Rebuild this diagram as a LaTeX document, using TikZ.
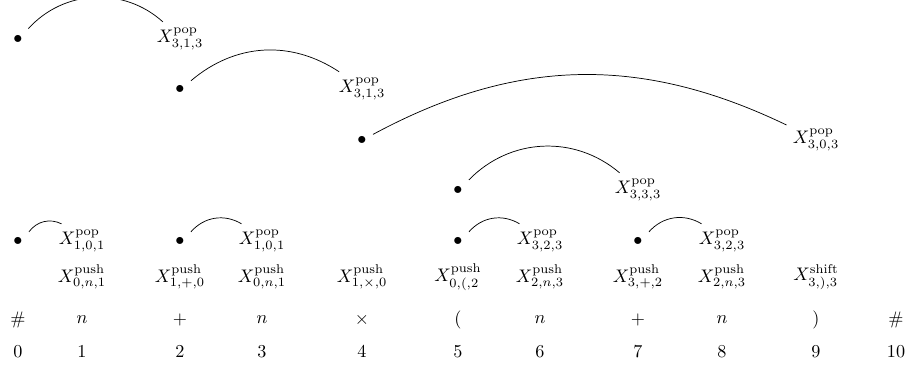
\documentclass[tikz,border=0pt]{standalone}
\usepackage{amsmath,amssymb}
\usetikzlibrary{positioning}
\begin{document}
\begin{tikzpicture}[x=0.55pt,y=-0.55pt]
\useasboundingbox (0,0) rectangle (907,367);
% input word and positions
\foreach \i/\x/\s in {0/18/\#,1/82/n,2/180/+,3/262/n,4/362/\times,5/458/{(},6/540/n,7/638/+,8/722/n,9/816/{)},10/896/\#}
{\node (w\i) at (\x,320) {$\s$};
 \node (i\i) at (\x,352) {$\i$};}
% push and shift nodes
\foreach \i/\x/\t/\sub in {1/82/push/{0,n,1},2/180/push/{1,+,0},3/262/push/{0,n,1},4/362/push/{1,\times,0},5/458/push/{0,(,2},6/540/push/{2,n,3},7/638/push/{3,+,2},8/722/push/{2,n,3},9/816/shift/{3,),3}}
{\node (u\i) at (\x,277) {$X^{\mathrm{\t}}_{\sub}$};}
% pop nodes, bullet to label
\foreach \n/\bx/\xx/\y/\sub/\a in {1/18/180/39/{3,1,3}/45,2/180/362/89/{3,1,3}/37,3/362/816/140/{3,0,3}/27,4/458/638/190/{3,3,3}/43,5/18/82/241/{1,0,1}/40,6/180/262/241/{1,0,1}/40,7/458/540/241/{3,2,3}/40,8/638/722/241/{3,2,3}/40}
{\node (b\n) at (\bx,\y) {$\bullet$};
 \node (x\n) at (\xx,\y) {$X^{\mathrm{pop}}_{\sub}$};
 \draw (b\n) to[bend left=\a] (x\n);}
\end{tikzpicture}
\end{document}
